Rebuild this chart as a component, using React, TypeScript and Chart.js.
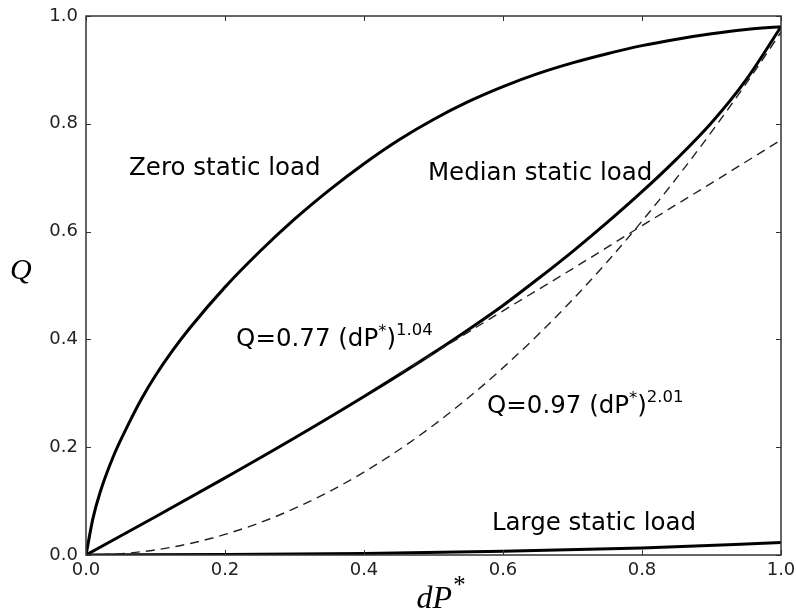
import React, { useEffect, useRef } from "react";
import { Chart, registerables } from "chart.js";

Chart.register(...registerables);

// ---- data ----
const xZero = [0, 0.01, 0.02, 0.04, 0.06, 0.08, 0.1, 0.125, 0.15, 0.2, 0.25, 0.3, 0.35, 0.4, 0.45, 0.5, 0.55, 0.6, 0.65, 0.7, 0.75, 0.8, 0.85, 0.9, 0.95, 1.0];
const yZero = [0, 0.068, 0.115, 0.185, 0.24, 0.29, 0.333, 0.38, 0.422, 0.497, 0.563, 0.623, 0.677, 0.726, 0.77, 0.808, 0.841, 0.869, 0.893, 0.913, 0.93, 0.945, 0.957, 0.967, 0.975, 0.98];

const xMedian = [0, 0.1, 0.2, 0.3, 0.4, 0.5, 0.55, 0.6, 0.65, 0.7, 0.75, 0.8, 0.85, 0.9, 0.95, 1.0];
const yMedian = [0, 0.071, 0.143, 0.217, 0.294, 0.375, 0.418, 0.463, 0.512, 0.563, 0.617, 0.674, 0.735, 0.802, 0.882, 0.98];

const xLarge = [0, 0.2, 0.4, 0.6, 0.8, 1.0];
const yLarge = [0, 0.001, 0.003, 0.007, 0.013, 0.023];

// Q = 0.77 (dP*)^1.04
const xFitLinear = [0.45, 0.5, 0.6, 0.7, 0.8, 0.9, 1.0];
const yFitLinear = [0.336, 0.374, 0.453, 0.531, 0.611, 0.69, 0.77];

// Q = 0.97 (dP*)^2.01
const xFitSquare = [0, 0.05, 0.1, 0.15, 0.2, 0.25, 0.3, 0.35, 0.4, 0.45, 0.5, 0.55, 0.6, 0.65, 0.7, 0.75, 0.8, 0.85, 0.9, 0.95, 1.0];
const yFitSquare = [0, 0.0024, 0.0095, 0.0214, 0.0382, 0.0598, 0.0863, 0.1176, 0.1538, 0.1948, 0.2408, 0.2917, 0.3474, 0.4081, 0.4736, 0.5441, 0.6194, 0.6997, 0.7849, 0.875, 0.97];

const tickValues = [0, 0.2, 0.4, 0.6, 0.8, 1.0];
const tickLabels = ["0.0", "0.2", "0.4", "0.6", "0.8", "1.0"];

// annotation texts with anchors in data units
type Seg = { t: string; size: number; rise: number };
const annoZero: Seg[] = [{ t: "Zero static load", size: 24.5, rise: 0 }];
const annoMedian: Seg[] = [{ t: "Median static load", size: 24.5, rise: 0 }];
const annoLarge: Seg[] = [{ t: "Large static load", size: 24.5, rise: 0 }];
const annoFit1: Seg[] = [
  { t: "Q=0.77 (dP", size: 24.5, rise: 0 },
  { t: "*", size: 16.5, rise: 10 },
  { t: ")", size: 24.5, rise: 0 },
  { t: "1.04", size: 16.5, rise: 11 },
];
const annoFit2: Seg[] = [
  { t: "Q=0.97 (dP", size: 24.5, rise: 0 },
  { t: "*", size: 16.5, rise: 10 },
  { t: ")", size: 24.5, rise: 0 },
  { t: "2.01", size: 16.5, rise: 11 },
];
const annotations: { segs: Seg[]; x: number; y: number }[] = [
  { segs: annoZero, x: 0.062, y: 0.705 },
  { segs: annoMedian, x: 0.492, y: 0.696 },
  { segs: annoFit1, x: 0.216, y: 0.388 },
  { segs: annoFit2, x: 0.577, y: 0.264 },
  { segs: annoLarge, x: 0.584, y: 0.046 },
];

const pts = (xs: number[], ys: number[]) => xs.map((x, i) => ({ x, y: ys[i] }));

const SANS = '"DejaVu Sans", sans-serif';
const SERIF = '"Liberation Serif", "DejaVu Serif", serif';

function drawSegs(ctx: CanvasRenderingContext2D, segs: Seg[], x: number, y: number, family: string, style = "") {
  let cx = x;
  for (const s of segs) {
    ctx.font = `${style}${s.size}px ${family}`;
    ctx.fillText(s.t, cx, y - s.rise);
    cx += ctx.measureText(s.t).width;
  }
}

const framePlugin = {
  id: "framePlugin",
  afterDatasetsDraw(chart: any) {
    const { ctx, chartArea: a, scales } = chart;
    const xs = scales.x;
    const ys = scales.y;
    ctx.save();
    // ticks (inward, all four sides)
    ctx.strokeStyle = "#333";
    ctx.lineWidth = 1;
    ctx.beginPath();
    for (const v of tickValues) {
      const px = Math.round(xs.getPixelForValue(v)) + 0.5;
      ctx.moveTo(px, a.bottom);
      ctx.lineTo(px, a.bottom - 5);
      ctx.moveTo(px, a.top);
      ctx.lineTo(px, a.top + 5);
      const py = Math.round(ys.getPixelForValue(v)) + 0.5;
      ctx.moveTo(a.left, py);
      ctx.lineTo(a.left + 5, py);
      ctx.moveTo(a.right, py);
      ctx.lineTo(a.right - 5, py);
    }
    ctx.stroke();
    // frame
    ctx.lineWidth = 1.5;
    ctx.strokeStyle = "#333";
    ctx.strokeRect(a.left, a.top, a.right - a.left, a.bottom - a.top);

    // annotations
    ctx.fillStyle = "#000";
    ctx.textBaseline = "alphabetic";
    ctx.textAlign = "left";
    for (const an of annotations) {
      drawSegs(ctx, an.segs, xs.getPixelForValue(an.x), ys.getPixelForValue(an.y), SANS);
    }

    // axis titles
    ctx.fillStyle = "#000";
    ctx.font = `italic 30px ${SERIF}`;
    ctx.textAlign = "left";
    ctx.fillText("Q", 10, 279);
    const xt: Seg[] = [
      { t: "dP", size: 32, rise: 0 },
      { t: "*", size: 25, rise: 15 },
    ];
    ctx.font = `italic 32px ${SERIF}`;
    const w1 = ctx.measureText("dP").width;
    ctx.font = `italic 25px ${SERIF}`;
    const w2 = ctx.measureText("*").width;
    const cx = (a.left + a.right) / 2 - (w1 + w2) / 2 + 7;
    drawSegs(ctx, xt, cx, 608, SERIF, "italic ");
    ctx.restore();
  },
};

export default function App() {
  const ref = useRef<HTMLCanvasElement | null>(null);
  useEffect(() => {
    document.body.style.margin = "0";
    const canvas = ref.current!;
    const solid = { borderColor: "#000", borderWidth: 3, pointRadius: 0, cubicInterpolationMode: "monotone" as const, fill: false };
    const dashed = { borderColor: "#222", borderWidth: 1.4, borderDash: [9, 6], pointRadius: 0, cubicInterpolationMode: "monotone" as const, fill: false };
    const chart = new Chart(canvas, {
      type: "line",
      data: {
        datasets: [
          { label: "Q=0.97 (dP*)^2.01", data: pts(xFitSquare, yFitSquare), ...dashed },
          { label: "Q=0.77 (dP*)^1.04", data: pts(xFitLinear, yFitLinear), ...dashed },
          { label: "Zero static load", data: pts(xZero, yZero), ...solid },
          { label: "Median static load", data: pts(xMedian, yMedian), ...solid },
          { label: "Large static load", data: pts(xLarge, yLarge), ...solid },
        ],
      },
      options: {
        animation: false,
        responsive: false,
        maintainAspectRatio: false,
        layout: { padding: { left: 0, right: 15, top: 16, bottom: 0 } },
        plugins: { legend: { display: false }, tooltip: { enabled: false } },
        scales: {
          x: {
            type: "linear",
            min: 0,
            max: 1,
            grid: { display: false, drawTicks: false },
            border: { display: false },
            afterBuildTicks: (s: any) => { s.ticks = tickValues.map((v) => ({ value: v })); },
            afterFit: (s: any) => { s.height = 60; s.paddingLeft = 0; s.paddingRight = 0; },
            ticks: {
              padding: 5,
              color: "#222",
              font: { family: SANS, size: 18 },
              maxRotation: 0,
              callback: (v: any) => tickLabels[tickValues.findIndex((t) => Math.abs(t - v) < 1e-6)] ?? "",
            },
          },
          y: {
            type: "linear",
            min: 0,
            max: 1,
            grid: { display: false, drawTicks: false },
            border: { display: false },
            afterBuildTicks: (s: any) => { s.ticks = tickValues.map((v) => ({ value: v })); },
            afterFit: (s: any) => { s.width = 86; s.paddingTop = 0; s.paddingBottom = 0; },
            ticks: {
              padding: 8,
              color: "#222",
              font: { family: SANS, size: 18 },
              callback: (v: any) => tickLabels[tickValues.findIndex((t) => Math.abs(t - v) < 1e-6)] ?? "",
            },
          },
        },
      },
      plugins: [framePlugin],
    });
    return () => chart.destroy();
  }, []);
  return (
    <div style={{ width: 796, height: 615, background: "#fff" }}>
      <canvas ref={ref} width={796} height={615} style={{ display: "block" }} />
    </div>
  );
}
